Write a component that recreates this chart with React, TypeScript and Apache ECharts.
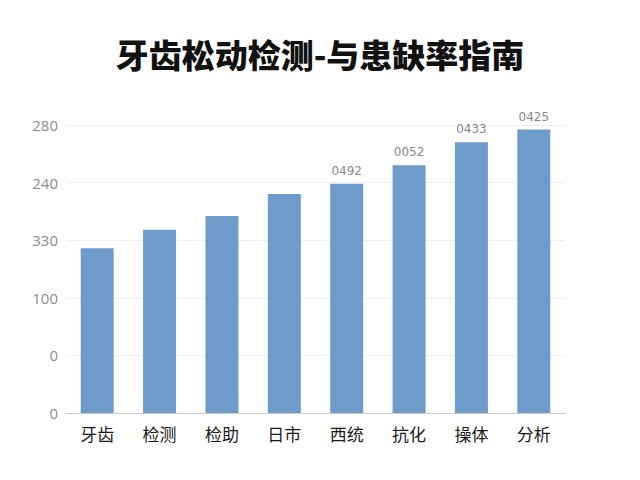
import { useEffect, useRef } from 'react'
import * as echarts from 'echarts'

const categories = ['牙齿', '检测', '检助', '日市', '西统', '抗化', '操体', '分析']
const values = [143, 159, 171, 190, 199, 215, 235, 246]
const barLabels = ['', '', '', '', '0492', '0052', '0433', '0425']
const tickLabels = ['0', '0', '100', '330', '240', '280']

export default function App() {
  const ref = useRef<HTMLDivElement>(null)

  useEffect(() => {
    if (!ref.current) return
    const chart = echarts.init(ref.current, null, { renderer: 'svg' })

    chart.setOption({
      animation: false,
      backgroundColor: '#ffffff',
      title: {
        text: '牙齿松动检测-与患缺率指南',
        left: 'center',
        top: 32,
        textStyle: {
          color: '#111111',
          fontSize: 33,
          fontWeight: 900,
          fontFamily: 'Noto Sans CJK SC',
        },
      },
      grid: { left: 66, right: 75, top: 125, bottom: 67, containLabel: false },
      xAxis: {
        type: 'category',
        data: categories,
        axisLine: { lineStyle: { color: '#cccccc', width: 1 } },
        axisTick: { show: false },
        axisLabel: {
          color: '#1a1a1a',
          fontSize: 17,
          fontFamily: 'Noto Sans CJK SC',
          margin: 12,
        },
      },
      yAxis: {
        type: 'value',
        min: 0,
        max: 250,
        interval: 50,
        axisLine: { show: false },
        axisTick: { show: false },
        splitLine: { lineStyle: { color: '#efefef' } },
        axisLabel: {
          color: '#8c8c8c',
          fontSize: 15,
          fontFamily: 'Open Sans',
          margin: 8,
          formatter: (v: number) => tickLabels[Math.round(v / 50)] ?? '',
        },
      },
      series: [
        {
          type: 'bar',
          data: values,
          barWidth: 33,
          itemStyle: { color: '#6f9bcb' },
          label: {
            show: true,
            position: 'top',
            distance: 7,
            color: '#888888',
            fontSize: 12,
            fontFamily: 'DejaVu Sans',
            formatter: (p: { dataIndex: number }) => barLabels[p.dataIndex],
          },
        },
      ],
    })

    return () => chart.dispose()
  }, [])

  return (
    <div
      ref={ref}
      style={{ position: 'absolute', left: 0, top: 0, width: 640, height: 480 }}
    />
  )
}
